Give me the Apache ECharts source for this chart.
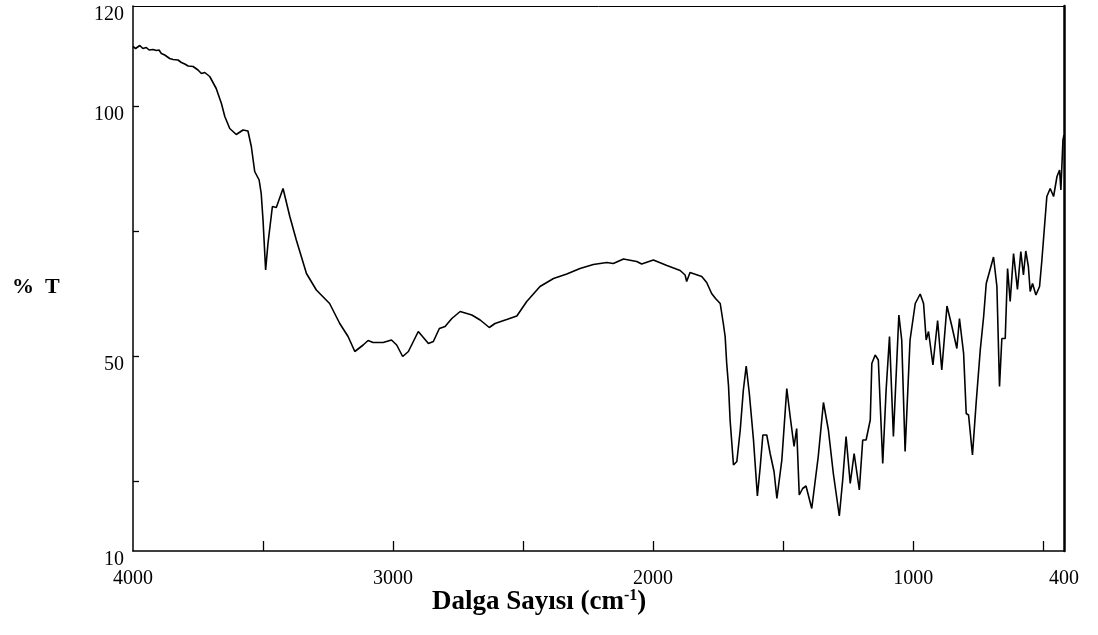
<!DOCTYPE html>
<html>
<head>
<meta charset="utf-8">
<script src="https://cdn.jsdelivr.net/npm/echarts@6/dist/echarts.min.js"></script>
<style>html,body{margin:0;padding:0;background:#fff;}#c{width:1098px;height:635px;}</style>
</head>
<body>
<div id="c"></div>
<script>
// Wavenumbers (cm-1) and % transmittance
var wavenumbers = [4000,3990,3974,3962,3949,3938,3923,3910,3900,3891,3878,3872,3859,3846,3840,3827,3814,3801,3788,3769,3750,3737,3724,3705,3680,3660,3647,3628,3603,3577,3558,3545,3532,3515,3507,3500,3490,3481,3464,3449,3423,3397,3372,3333,3295,3244,3205,3173,3147,3115,3096,3077,3038,3006,2986,2963,2941,2903,2864,2845,2822,2800,2774,2742,2697,2665,2630,2608,2563,2524,2486,2435,2383,2332,2281,2230,2178,2153,2114,2063,2044,1999,1947,1896,1877,1871,1858,1813,1794,1775,1760,1742,1730,1723,1717,1710,1704,1691,1678,1665,1653,1642,1630,1614,1599,1588,1578,1563,1550,1535,1524,1505,1486,1473,1458,1448,1438,1425,1412,1390,1365,1345,1326,1307,1284,1271,1258,1242,1227,1207,1194,1181,1165,1159,1146,1134,1117,1104,1091,1076,1055,1044,1031,1012,992,973,960,950,941,924,906,890,870,851,832,822,806,796,787,772,758,742,729,719,691,678,668,659,646,637,627,614,599,586,576,567,557,550,541,528,514,505,486,473,460,447,437,432,424,420];
var transmittance = [111.9,111.5,112.1,111.5,111.7,111.2,111.3,111.1,111.2,110.5,110.2,110.5,109.5,109.3,108.9,109.2,108.7,108.4,108.0,107.9,107.2,106.5,106.7,105.9,103.5,100.5,97.9,95.5,94.3,95.2,95.0,91.9,86.9,85.2,82.5,77.2,67.2,72.5,79.9,79.7,83.5,77.9,73.2,66.5,63.2,60.5,56.5,53.9,50.9,52.2,53.1,52.7,52.7,53.2,52.2,49.9,50.9,54.9,52.5,52.9,55.5,55.9,57.5,58.9,58.2,57.2,55.7,56.5,57.3,58.0,60.9,63.9,65.5,66.4,67.5,68.3,68.7,68.5,69.4,68.9,68.4,69.2,68.1,67.1,66.2,64.9,66.7,65.9,64.7,62.5,61.5,60.5,56.5,53.9,48.5,44.0,37.2,28.2,28.9,35.2,43.2,48.0,42.5,33.2,22.0,27.9,34.2,34.2,30.5,26.9,21.5,29.2,43.5,37.9,31.9,35.5,22.2,23.5,24.0,19.5,29.9,40.7,35.2,26.5,18.0,25.2,33.9,24.5,30.5,23.2,33.2,33.2,37.2,48.5,50.2,49.2,28.5,43.2,53.9,33.9,58.2,53.2,30.9,53.2,60.5,62.4,60.5,53.2,54.9,48.2,57.1,47.2,60.0,55.9,51.5,57.5,50.5,38.5,38.2,30.2,40.5,51.2,57.9,64.5,69.8,63.9,43.9,53.5,53.5,67.5,60.9,70.5,63.3,70.9,66.2,71.0,67.9,62.9,64.5,62.2,63.9,69.2,81.9,83.5,81.9,85.9,87.2,83.2,93.2,94.2];

// Axis ticks and labels
var xTickValues = [3500,3000,2500,2000,1500,1000,500];
var xLabelValues = [4000,3000,2000,1000,420];
var xLabelTexts = ['4000','3000','2000','1000','400'];
var yTickValues = [25,50,75,100];
var yLabelValues = [11,50,100,120];
var yLabelTexts = ['10','50','100','120'];
var X_MIN = 420, X_MAX = 4000, Y_MIN = 11, Y_MAX = 120;

var seriesData = wavenumbers.map(function (w, i) { return [w, transmittance[i]]; });
var FONT = 'Liberation Serif';

var chart = echarts.init(document.getElementById('c'), null, {renderer: 'canvas'});
chart.setOption({
  animation: false,
  backgroundColor: '#fff',
  grid: {left: 133, right: 34, top: 6, bottom: 84},
  xAxis: [{
    type: 'value', inverse: true, min: X_MIN, max: X_MAX,
    splitLine: {show: false},
    axisLine: {show: true, lineStyle: {color: '#000', width: 1.5}},
    axisTick: {show: true, inside: true, length: 10, customValues: xTickValues, lineStyle: {color: '#000', width: 1.3}},
    axisLabel: {
      show: true, customValues: xLabelValues, margin: 18,
      color: '#000', fontFamily: FONT, fontSize: 20,
      formatter: function (v) { var i = xLabelValues.indexOf(v); return i >= 0 ? xLabelTexts[i] : ''; }
    }
  }, {
    type: 'value', inverse: true, min: X_MIN, max: X_MAX, position: 'top',
    splitLine: {show: false},
    axisLine: {show: true, lineStyle: {color: '#000', width: 1}},
    axisTick: {show: false}, axisLabel: {show: false}
  }],
  yAxis: [{
    type: 'value', min: Y_MIN, max: Y_MAX,
    splitLine: {show: false},
    axisLine: {show: true, lineStyle: {color: '#000', width: 1.5}},
    axisTick: {show: true, inside: true, length: 6, customValues: yTickValues, lineStyle: {color: '#000', width: 1.3}},
    axisLabel: {
      show: true, customValues: yLabelValues, margin: 9,
      color: '#000', fontFamily: FONT, fontSize: 20, verticalAlign: 'top', lineHeight: 18,
      formatter: function (v) { var i = yLabelValues.indexOf(v); return i >= 0 ? yLabelTexts[i] : ''; }
    }
  }, {
    type: 'value', min: Y_MIN, max: Y_MAX, position: 'right',
    splitLine: {show: false},
    axisLine: {show: true, lineStyle: {color: '#000', width: 2.5}},
    axisTick: {show: false}, axisLabel: {show: false}
  }],
  graphic: [{
    type: 'text', left: 12, top: 276,
    style: {text: '%  T', font: 'bold 22px "Liberation Serif"', fill: '#000'}
  }, {
    type: 'text', left: 432, top: 588,
    style: {
      text: 'Dalga Sayısı (cm{s|-1})',
      font: 'bold 27px "Liberation Serif"', fill: '#000',
      rich: {s: {fontSize: 16, fontWeight: 'bold', fontFamily: FONT, verticalAlign: 'top', padding: [0, 0, 13, 0]}}
    }
  }],
  series: [{
    type: 'line', xAxisIndex: 0, yAxisIndex: 0,
    data: seriesData, showSymbol: false, symbol: 'none',
    lineStyle: {color: '#000', width: 1.6},
    silent: true
  }]
});
</script>
</body>
</html>
